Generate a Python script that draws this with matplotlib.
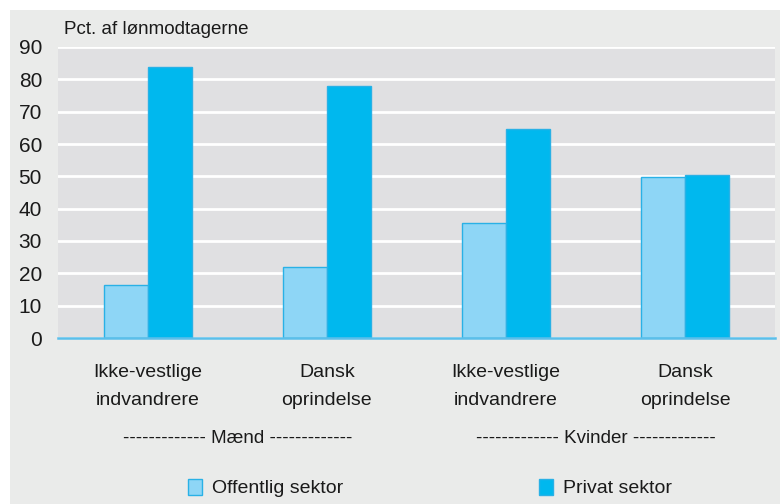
import matplotlib.pyplot as plt
from matplotlib.patches import Rectangle, Patch
import numpy as np

plt.rcParams['font.family'] = ['Liberation Sans', 'DejaVu Sans']

groups = ['Ikke-vestlige\nindvandrere', 'Dansk\noprindelse', 'Ikke-vestlige\nindvandrere', 'Dansk\noprindelse']
sexes = ['------------- Mænd -------------', '------------- Kvinder -------------']
offentlig = [16.3, 22.0, 35.5, 49.7]
privat = [83.7, 78.0, 64.5, 50.3]
yticks = [0, 10, 20, 30, 40, 50, 60, 70, 80, 90]

panel = '#EAEBEA'
plotbg = '#E0E0E2'
light = '#8ED6F6'
dark = '#00B8EE'
edge = '#29B1E6'
txt = '#1a1a1a'

W, H = 780, 504
fig = plt.figure(figsize=(W / 100, H / 100), dpi=100, facecolor='white')
fig.patches.append(Rectangle((10 / W, 0), 1 - 10 / W, 1 - 10 / H,
                             transform=fig.transFigure, facecolor=panel,
                             edgecolor='none', zorder=-10))

ax = fig.add_axes([58 / W, 1 - 338 / H, (775 - 58) / W, (338 - 47) / H])
ax.set_facecolor(plotbg)

x = np.arange(len(groups))
w = 0.245
ax.bar(x - w / 2, offentlig, w, color=light, edgecolor=edge, linewidth=1.0, zorder=3)
ax.bar(x + w / 2, privat, w, color=dark, edgecolor=edge, linewidth=1.0, zorder=3)

ax.set_xlim(-0.5, len(groups) - 0.5)
ax.set_ylim(0, 90)
ax.set_yticks(yticks)
ax.yaxis.grid(True, color='white', linewidth=2, zorder=1)
ax.set_axisbelow(True)
for s in ['top', 'right', 'left']:
    ax.spines[s].set_visible(False)
ax.spines['bottom'].set_color('#5BBFEA')
ax.spines['bottom'].set_linewidth(1.8)
ax.spines['bottom'].set_zorder(4)

ax.set_xticks(x)
ax.set_xticklabels(groups, fontsize=14, color=txt, linespacing=1.8)
ax.tick_params(axis='x', length=0, pad=19)
ax.tick_params(axis='y', length=0, pad=11.5, labelsize=15, labelcolor=txt)

# group labels under the categories
for i, lab in enumerate(sexes):
    ax.text(2 * i + 0.5, -31, lab, ha='center', va='center', fontsize=13.5,
            color=txt, transform=ax.transData, clip_on=False)

fig.text(64 / W, 1 - 29 / H, 'Pct. af lønmodtagerne', fontsize=13.5,
         color=txt, ha='left', va='center')

handles = [Patch(facecolor=light, edgecolor=edge, label='Offentlig sektor'),
           Patch(facecolor=dark, edgecolor=edge, label='Privat sektor')]
fig.legend(handles=handles, loc='center', bbox_to_anchor=(430 / W, 1 - 488 / H),
           ncol=2, frameon=False, fontsize=14, handlelength=0.7,
           handleheight=0.9, handletextpad=0.5, columnspacing=10.1,
           labelcolor=txt)

fig.savefig('out.png', dpi=100, facecolor=fig.get_facecolor())
